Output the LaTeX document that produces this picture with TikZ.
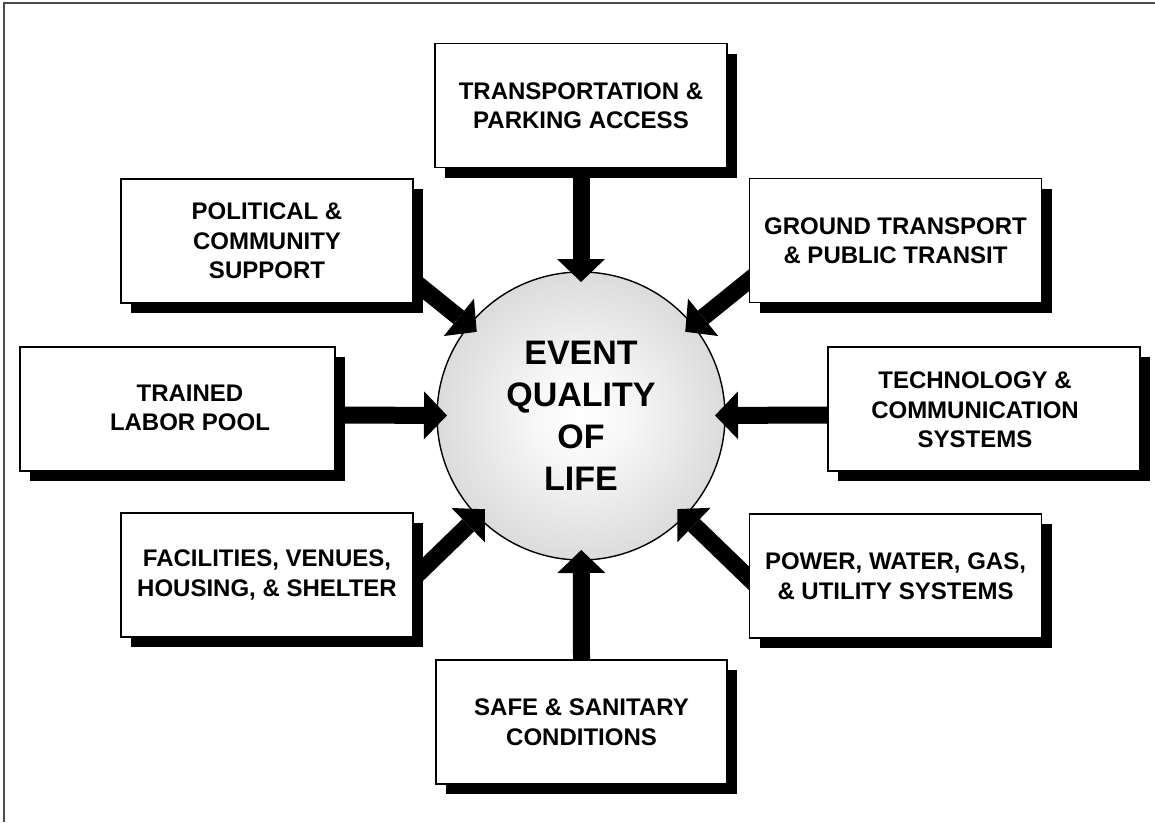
\documentclass[tikz,border=0pt]{standalone}
\usepackage{fontspec}
\setmainfont{Liberation Sans}
\usetikzlibrary{arrows.meta,calc}
\pgfdeclarelayer{bg}\pgfdeclarelayer{arr}
\pgfsetlayers{bg,arr,main}
\pgfdeclareradialshading{ballshade}{\pgfpoint{0bp}{0bp}}{color(0bp)=(white); color(8bp)=(black!3); color(50bp)=(black!30)}
\begin{document}
\begin{tikzpicture}[x=1pt,y=-1pt,
  boxtxt/.style={font=\fontsize{24}{29.5}\selectfont\bfseries, align=center, inner sep=0pt},
  box/.style={boxtxt, draw=black, line width=1.6pt, fill=white, minimum width=292pt, minimum height=124pt,
    preaction={fill=black, transform canvas={xshift=10pt, yshift=-10pt}}},
  bigarr/.style={line width=17pt, -{Triangle[length=23pt,width=48pt,line width=0pt]}},
  frame/.style={draw=black!70, line width=2pt}]
\useasboundingbox (0,0) rectangle (1155,822);

\begin{pgfonlayer}{bg}
\node[circle, draw=black, line width=1.4pt, shading=ballshade, minimum size=288pt, inner sep=0pt,
  align=center, font=\fontsize{34}{42}\selectfont\bfseries] (c) at (581,416) {EVENT\\QUALITY\\OF\\LIFE};
\end{pgfonlayer}

\node[box] (trans) at (581,105.5) {TRANSPORTATION \&\\PARKING ACCESS};
\node[box] (pol) at (267,241) {POLITICAL \&\\COMMUNITY\\SUPPORT};
\node[box] (gnd) at (895.5,240.5) {GROUND TRANSPORT\\\& PUBLIC TRANSIT};
\node[box, minimum width=315pt] (trained) at (177.5,409) {};
\node[boxtxt] (trainedtxt) at ($(trained.center)+(12.5,-1)$) {TRAINED\\LABOR POOL};
\node[box, minimum width=312pt] (tech) at (984,409) {};
\node[boxtxt] (techtxt) at ($(tech.center)+(-9,1)$) {TECHNOLOGY \&\\COMMUNICATION\\SYSTEMS};
\node[box] (fac) at (267,575) {FACILITIES, VENUES,\\HOUSING, \& SHELTER};
\node[box] (pow) at (895.5,576) {POWER, WATER, GAS,\\\& UTILITY SYSTEMS};
\node[box, minimum width=291pt] (safe) at (581.5,722) {SAFE \& SANITARY\\CONDITIONS};

\coordinate (s1) at (trans.south);
\coordinate (s2) at ($(gnd.west)+(0,40)$);
\coordinate (s3) at ($(tech.west)+(0,6)$);
\coordinate (s4) at ($(pow.west)+(0,2)$);
\coordinate (s5) at (safe.north);
\coordinate (s6) at ($(fac.east)+(0,3)$);
\coordinate (s7) at ($(trained.east)+(0,6)$);
\coordinate (s8) at ($(pol.east)+(0,40)$);

\begin{pgfonlayer}{arr}
\foreach \s in {s1,s2,s3,s4,s5,s6,s7,s8}
  \draw[bigarr] ($(\s)!-15pt!(c.center)$) -- ($(c.center)!134pt!(\s)$);
\end{pgfonlayer}

\draw[frame] (4,822) -- (4,3) -- (1155,3);
\end{tikzpicture}
\end{document}
